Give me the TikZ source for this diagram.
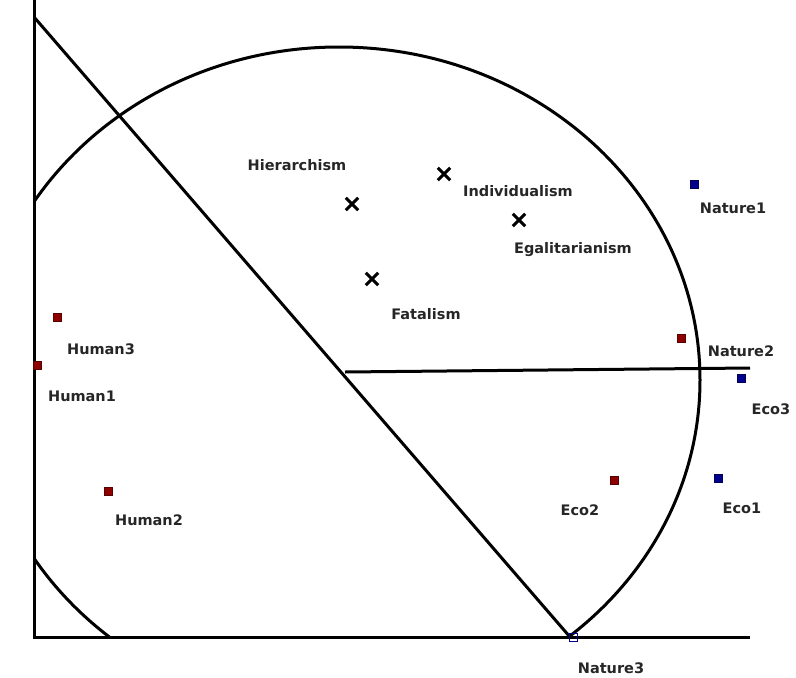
\documentclass[tikz,border=0pt]{standalone}
\usepackage{fontspec}
\setmainfont{DejaVu Sans}
\begin{document}
\begin{tikzpicture}[x=1pt,y=-1pt,
  ax/.style={line width=3pt},
  lbl/.style={font=\bfseries\fontsize{14.5}{17}\selectfont, text=black!85},
  red mk/.style={fill=red!55!black, draw=red!35!black, minimum size=8pt, inner sep=0pt},
  blue mk/.style={fill=blue!55!black, draw=blue!35!black, minimum size=8pt, inner sep=0pt},
  xm/.style={minimum size=12pt, inner sep=0pt}]
\useasboundingbox (0,0) rectangle (796,678);
% axes
\coordinate (O) at (34,637);
\coordinate (Ytop) at (34,0);
\coordinate (Xend) at (750,637);
\draw[ax] (Ytop) -- (O) -- (Xend);
% big ellipse (clipped to the quadrant)
\begin{scope}
\clip (34,0) rectangle (796,637);
\draw[ax] (339,380) ellipse [x radius=361, y radius=333];
\end{scope}
% diagonal and horizontal
\coordinate (D1) at (34,17);
\coordinate (D2) at (570,637);
\coordinate (C) at (345,372);
\coordinate (H2) at (750,368);
\draw[ax] (D1) -- (D2);
\draw[ax] (C) -- (H2);
% crosses
\foreach \n/\p in {xh/{352,204}, xi/{444,174}, xe/{519,220}, xf/{372,279}}{
  \node[xm] (\n) at (\p) {};
  \draw[line width=3pt] (\n.north west) -- (\n.south east) (\n.north east) -- (\n.south west);
}
\node[lbl] (lh) at (297,165) {Hierarchism};
\node[lbl] (li) at (518,191) {Individualism};
\node[lbl] (le) at (573,250) {Egalitarianism};
\node[lbl] (lf) at (426,314) {Fatalism};
% markers
\node[blue mk] (n1) at (694,184) {};
\node[lbl] (ln1) at (733,208) {Nature1};
\node[red mk] (n2) at (681,338) {};
\node[lbl] (ln2) at (741,351) {Nature2};
\node[blue mk] (e3) at (741,378) {};
\node[lbl] (le3) at (771,409) {Eco3};
\node[blue mk] (e1) at (718,478) {};
\node[lbl] (le1) at (742,508) {Eco1};
\node[red mk] (e2) at (614,480) {};
\node[lbl] (le2) at (580,510) {Eco2};
\node[blue mk, fill=none, draw=blue!55!black, thick] (n3) at (573,637) {};
\node[lbl] (ln3) at (611,668) {Nature3};
\node[red mk] (h3) at (57,317) {};
\node[lbl] (lh3) at (101,349) {Human3};
\node[red mk] (h1) at (37,365) {};
\node[lbl] (lh1) at (82,396) {Human1};
\node[red mk] (h2) at (108,491) {};
\node[lbl] (lh2) at (149,520) {Human2};
\end{tikzpicture}
\end{document}
